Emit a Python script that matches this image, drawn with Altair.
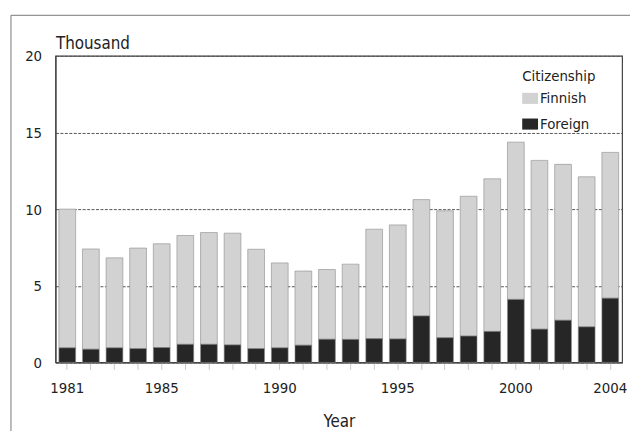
import altair as alt
import pandas as pd

years = list(range(1981, 2005))
totals = [10.0, 7.4, 6.82, 7.46, 7.74, 8.28, 8.47, 8.43, 7.38, 6.49, 5.96, 6.06,
          6.41, 8.69, 8.97, 10.62, 9.89, 10.84, 11.98, 14.37, 13.18, 12.92, 12.11, 13.7]
foreign = [0.95, 0.86, 0.95, 0.9, 0.97, 1.18, 1.18, 1.14, 0.9, 0.95, 1.12, 1.51,
           1.5, 1.55, 1.53, 3.03, 1.61, 1.72, 2.02, 4.11, 2.17, 2.75, 2.32, 4.19]
finnish = [round(t - f, 2) for t, f in zip(totals, foreign)]
shown_years = ["1981", "1985", "1990", "1995", "2000", "2004"]
groups = ["Finnish", "Foreign"]
colors = ["#d2d2d2", "#262626"]

rows = []
for y, fi, fo in zip(years, finnish, foreign):
    rows.append({"Year": str(y), "Citizenship": "Finnish", "value": fi, "ord": 1})
    rows.append({"Year": str(y), "Citizenship": "Foreign", "value": fo, "ord": 0})
df = pd.DataFrame(rows)

W, H = 573, 310
FONT = "'DejaVu Sans Condensed', Roboto, sans-serif"

label_expr = "indexof(" + str(shown_years) + ", datum.label) >= 0 ? datum.label : ''"

bars = alt.Chart(df).mark_bar(stroke="#8a8a8a", strokeWidth=0.6).encode(
    x=alt.X("Year:O", sort=[str(y) for y in years],
            scale=alt.Scale(paddingInner=0.29, paddingOuter=0.145),
            axis=alt.Axis(title="Year", labelAngle=0, labelExpr=label_expr,
                          tickSize=7, tickColor="#c8c8c8",
                          labelPadding=11, titlePadding=19,
                          domainColor="#444", domainWidth=1.2)),
    y=alt.Y("value:Q", stack="zero",
            scale=alt.Scale(domain=[0, 20]),
            axis=alt.Axis(title="Thousand", values=[0, 5, 10, 15, 20], ticks=False,
                          labelPadding=14, titleAngle=0, titleX=0, titleY=-7,
                          titleAlign="left", titleBaseline="alphabetic",
                          gridColor="#555", gridDash=[3, 1.5], gridWidth=1,
                          domainColor="#444", domainWidth=1.2)),
    color=alt.Color("Citizenship:N", sort=groups,
                    scale=alt.Scale(domain=groups, range=colors),
                    legend=alt.Legend(title="Citizenship", orient="none",
                                      legendX=472, legendY=13,
                                      symbolType="M-1,-0.7L1,-0.7L1,0.7L-1,0.7Z",
                                      symbolSize=256, symbolStrokeWidth=0,
                                      labelOffset=2, rowPadding=10,
                                      titlePadding=7)),
    order=alt.Order("ord:Q", sort="ascending"),
)

frame_left = alt.Chart(pd.DataFrame({"a": [0]})).mark_rule(color="#777", strokeWidth=1, clip=False).encode(
    x=alt.value(-45), y=alt.value(-41), y2=alt.value(H + 80))
frame_top = alt.Chart(pd.DataFrame({"a": [0]})).mark_rule(color="#777", strokeWidth=1, clip=False).encode(
    x=alt.value(-45), x2=alt.value(W + 20), y=alt.value(-41))

chart = alt.layer(frame_left, frame_top, bars).properties(
    width=W, height=H,
    autosize=alt.AutoSizeParams(type="none"),
    padding={"left": 48, "top": 46, "right": 8, "bottom": 67},
).configure(font=FONT).configure_view(
    stroke="#444", strokeWidth=1.2
).configure_axis(
    labelFont=FONT, titleFont=FONT, labelFontSize=15, titleFontSize=17,
    labelColor="#222", titleColor="#222", titleFontWeight="normal",
).configure_axisX(grid=False).configure_legend(
    titleFont=FONT, labelFont=FONT, titleFontSize=15, labelFontSize=15,
    titleFontWeight="normal", titleColor="#222", labelColor="#222",
)

chart.save("out.html", embed_options={"renderer": "svg", "actions": False})
